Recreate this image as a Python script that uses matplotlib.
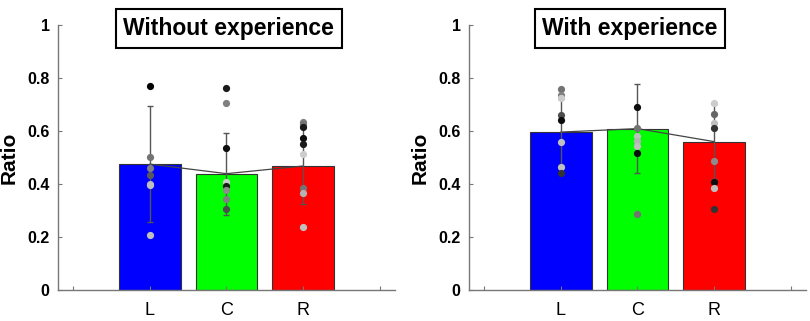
import numpy as np
import matplotlib
matplotlib.use('Agg')
import matplotlib.pyplot as plt

plt.rcParams['font.family'] = ['Liberation Sans', 'DejaVu Sans']

categories = ['L', 'C', 'R']
bar_colors = ['#0000ff', '#00ff00', '#ff0000']

# Without experience
means_wo = [0.475, 0.439, 0.468]
sd_wo = [0.218, 0.155, 0.145]
dots_wo = [
    [0.770, 0.503, 0.459, 0.434, 0.400, 0.395, 0.208],
    [0.761, 0.705, 0.535, 0.409, 0.392, 0.377, 0.342, 0.305],
    [0.635, 0.626, 0.614, 0.572, 0.550, 0.512, 0.384, 0.365, 0.239],
]
shades_wo = [
    ['k', '0.45', '0.5', '0.35', '0.7', '0.75', '0.75'],
    ['0.1', '0.5', '0.05', '0.8', '0.1', '0.55', '0.5', '0.3'],
    ['0.5', '0.45', '0.1', '0.05', '0.1', '0.8', '0.45', '0.7', '0.75'],
]

# With experience
means_w = [0.596, 0.609, 0.560]
sd_w = [0.125, 0.168, 0.142]
dots_w = [
    [0.757, 0.736, 0.723, 0.660, 0.642, 0.557, 0.465, 0.443],
    [0.689, 0.610, 0.581, 0.562, 0.543, 0.516, 0.286],
    [0.705, 0.663, 0.629, 0.610, 0.488, 0.406, 0.384, 0.306],
]
shades_w = [
    ['0.45', '0.5', '0.8', '0.3', '0.05', '0.75', '0.75', '0.2'],
    ['0.05', '0.45', '0.75', '0.7', '0.75', '0.05', '0.45'],
    ['0.8', '0.4', '0.75', '0.2', '0.55', '0.05', '0.75', '0.2'],
]

fig = plt.figure(figsize=(8.1, 3.21), dpi=100)
ax1 = fig.add_axes([0.0716, 0.0966, 0.416, 0.8255])
ax2 = fig.add_axes([0.579, 0.0966, 0.416, 0.8255])


def draw_panel(ax, means, sds, dots, shades, title, title_x):
    x = np.arange(1, len(categories) + 1)
    ax.bar(x, means, width=0.8, color=bar_colors, edgecolor='#333333',
           linewidth=0.8, zorder=1)
    ax.plot(x, means, color='#444444', lw=0.9, zorder=2)
    ax.errorbar(x, means, yerr=sds, fmt='none', ecolor='#555555',
                elinewidth=1.0, capsize=2.5, capthick=1.0, zorder=3)
    for xi, vals, cols in zip(x, dots, shades):
        for v, c in zip(vals, cols):
            ax.plot(xi, v, 'o', color=c, markersize=5.2, markeredgewidth=0,
                    zorder=4)

    ax.set_xlim(-0.2, 4.2)
    ax.set_ylim(0, 1)
    ax.set_xticks([0, 1, 2, 3, 4])
    ax.set_xticklabels([''] + categories + [''], fontsize=13)
    ax.set_yticks([0, 0.2, 0.4, 0.6, 0.8, 1])
    ax.set_yticklabels(['0', '0.2', '0.4', '0.6', '0.8', '1'],
                       fontsize=11.5, fontweight='bold')
    ax.tick_params(direction='in', length=3, color='#777777', pad=6)
    ax.tick_params(axis='x', pad=9)
    for side in ['top', 'right']:
        ax.spines[side].set_visible(False)
    for side in ['left', 'bottom']:
        ax.spines[side].set_color('#777777')
        ax.spines[side].set_linewidth(1.0)
    ax.set_ylabel('Ratio', fontsize=15, fontweight='bold', labelpad=6)

    ax.text(title_x, 0.987, title, ha='center', va='center', fontsize=16.5,
            fontweight='bold', transform=ax.get_xaxis_transform(),
            bbox=dict(boxstyle='square,pad=0.33', fc='w', ec='k', lw=1.5),
            zorder=5)


draw_panel(ax1, means_wo, sd_wo, dots_wo, shades_wo, 'Without experience', 2.03)
draw_panel(ax2, means_w, sd_w, dots_w, shades_w, 'With experience', 1.9)

fig.savefig('out.png', dpi=100)
